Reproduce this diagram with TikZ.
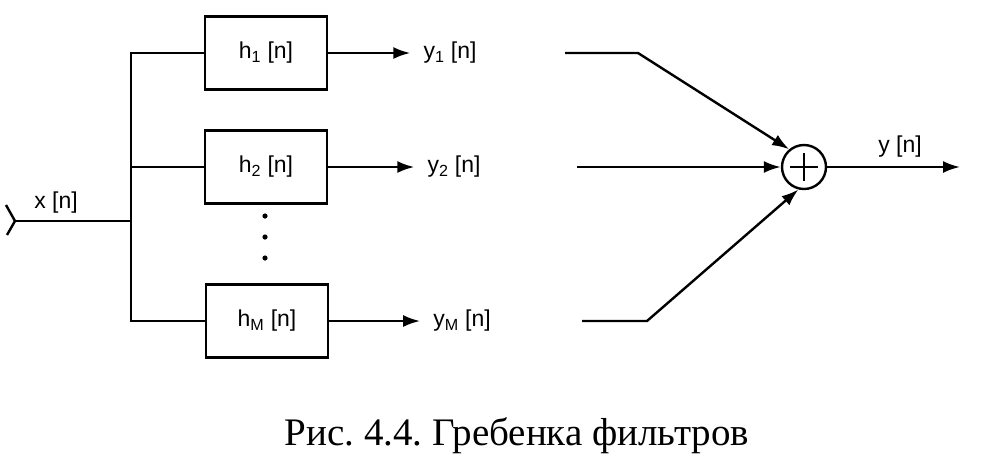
\documentclass[tikz,border=0pt]{standalone}
\usepackage{fontspec}
\setmainfont{Liberation Serif}
\setsansfont{Liberation Sans}
\usetikzlibrary{positioning, arrows.meta}
\frenchspacing

\begin{document}
\begin{tikzpicture}[x=1pt, y=-1pt, line width=2.4pt, on grid,
    >={Latex[length=17pt, width=12pt]},
    filter/.style={draw, minimum width=122pt, minimum height=73pt, font=\sffamily\fontsize{23}{26}\selectfont},
    sig/.style={inner sep=0pt, font=\sffamily\fontsize{23}{26}\selectfont},
    adder/.style={draw, circle, minimum size=44pt, inner sep=0pt,
      path picture={\draw[line width=2pt] ([xshift=-14pt]path picture bounding box.center) -- ([xshift=14pt]path picture bounding box.center)
        ([yshift=-14pt]path picture bounding box.center) -- ([yshift=14pt]path picture bounding box.center);}}]
  \useasboundingbox (0,0) rectangle (1001,459);

  \node[filter] (h1) at (266,53) {h\textsubscript{1} [n]};
  \node[filter] (h2) at (266,167) {h\textsubscript{2} [n]};
  \node[filter] (hM) at (267,321) {h\textsubscript{M} [n]};
  \node[sig] (y1) [right=184pt of h1] {y\textsubscript{1} [n]};
  \node[sig] (y2) [right=188pt of h2] {y\textsubscript{2} [n]};
  \node[sig] (yM) [right=195pt of hM] {y\textsubscript{M} [n]};
  \node[adder] (sum) at (804,167) {};
  \node[sig] (x) at (56,203) {x [n]};
  \node[sig] (y) at (900,147) {y [n]};

  \coordinate (xin) at (15,221);
  \coordinate (b) at (131,221);
  \coordinate (s1) at (565,53);
  \coordinate (k1) at (638,53);
  \coordinate (s2) at (577,167);
  \coordinate (sM) at (582,321);
  \coordinate (kM) at (647,321);
  \coordinate (out) at (960,167);

  \draw (xin) -- +(-9,-16) (xin) -- +(-8,14);
  \draw (xin) -- (b);
  \draw (h1.west) -| (b |- hM.west) -- (hM.west);
  \draw (h2.west) -- (h2.west -| b);
  \foreach \y in {216,237,258}
    \fill (265,\y) circle (2.6pt);

  \path[->, shorten >=12pt]
    (h1) edge (y1.west)
    (h2) edge (y2.west)
    (hM) edge (yM.west);
  \draw[->] (s1) -- (k1) -- (sum.130);
  \draw[->] (s2) -- (sum);
  \draw[->] (sM) -- (kM) -- (sum.-104);
  \draw[->] (sum) -- (out);

  \node[anchor=base, font=\fontsize{39}{44}\selectfont] (cap) at (517,445) {Рис. 4.4. Гребенка фильтров};
\end{tikzpicture}
\end{document}
